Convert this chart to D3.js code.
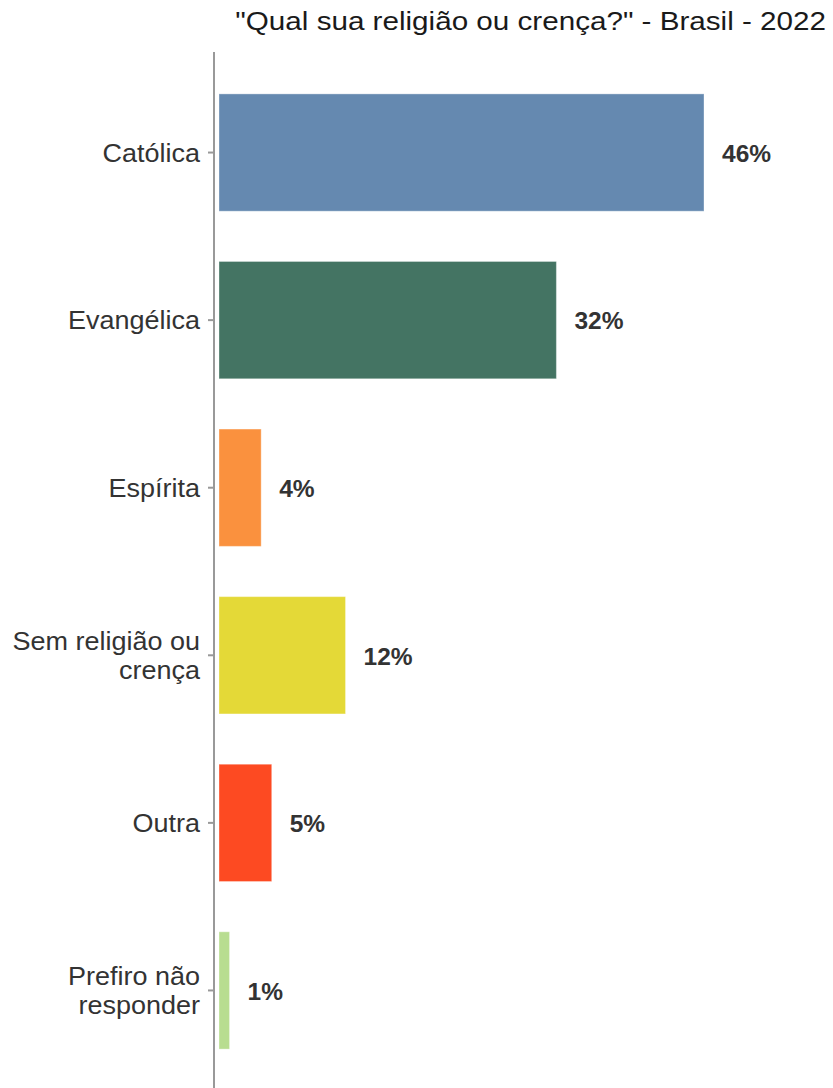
<!DOCTYPE html>
<html>
<head>
<meta charset="utf-8">
<script src="https://cdn.jsdelivr.net/npm/d3@7"></script>
<style>
  html, body { margin: 0; padding: 0; background: #fff; }
  svg { display: block; font-family: "Liberation Sans", Arial, sans-serif; }
</style>
</head>
<body>
<svg id="chart" width="833" height="1088"></svg>
<script>
const categories = ["Católica", "Evangélica", "Espírita", "Sem religião ou crença", "Outra", "Prefiro não responder"];
const categoryLines = [["Católica"], ["Evangélica"], ["Espírita"], ["Sem religião ou", "crença"], ["Outra"], ["Prefiro não", "responder"]];
const values = [46, 32, 4, 12, 5, 1];
const valueLabels = ["46%", "32%", "4%", "12%", "5%", "1%"];
const colors = ["#6589b0", "#447463", "#fa913e", "#e4d937", "#fd4a22", "#b8dd90"];
const title = "\"Qual sua religião ou crença?\" - Brasil - 2022";

const svg = d3.select("#chart");
const x0 = 219;

const y = d3.scaleBand()
  .domain(categories)
  .range([52, 1091])
  .paddingInner(0.3)
  .paddingOuter(0.25);

const x = d3.scaleLinear()
  .domain([0, d3.max(values)])
  .range([x0, 704]);

// title
svg.append("text")
  .attr("transform", "translate(826,30) scale(1.14,1)")
  .attr("x", 0)
  .attr("y", 0)
  .attr("text-anchor", "end")
  .attr("font-size", 26)
  .attr("fill", "#1a1a1a")
  .text(title);

// bars
svg.append("g").selectAll("rect")
  .data(categories)
  .join("rect")
  .attr("x", x(0))
  .attr("y", d => y(d))
  .attr("width", (d, i) => x(values[i]) - x(0))
  .attr("height", y.bandwidth())
  .attr("fill", (d, i) => colors[i])
  .attr("stroke", "#ffffff")
  .attr("stroke-opacity", 0.35)
  .attr("stroke-width", 1);

// value labels
svg.append("g").selectAll("text")
  .data(categories)
  .join("text")
  .attr("x", (d, i) => x(values[i]) + 18)
  .attr("y", d => y(d) + y.bandwidth() / 2)
  .attr("dy", "0.38em")
  .attr("font-size", 24.5)
  .attr("font-weight", "bold")
  .attr("fill", "#333333")
  .text((d, i) => valueLabels[i]);

// y axis
const axisG = svg.append("g").attr("transform", "translate(214,0)");
const axis = d3.axisLeft(y).tickSize(6).tickPadding(6).tickFormat("");
axisG.call(axis);
axisG.select(".domain").remove();
axisG.selectAll(".tick line").attr("stroke", "#999999").attr("stroke-width", 2);
axisG.append("line")
  .attr("x1", 0).attr("x2", 0)
  .attr("y1", 52).attr("y2", 1088)
  .attr("stroke", "#999999")
  .attr("stroke-width", 2);

// category labels (multi-line)
const lineH = 29;
axisG.selectAll(".tick").each(function(d) {
  const i = categories.indexOf(d);
  const lines = categoryLines[i];
  const t = d3.select(this).append("text")
    .attr("transform", "translate(-14,0) scale(1.08,1)")
    .attr("text-anchor", "end")
    .attr("font-size", 25)
    .attr("fill", "#333333");
  const offset = -(lines.length - 1) * lineH / 2;
  lines.forEach((ln, k) => {
    t.append("tspan")
      .attr("x", 0)
      .attr("y", offset + k * lineH)
      .attr("dy", "0.36em")
      .text(ln);
  });
});
</script>
</body>
</html>
